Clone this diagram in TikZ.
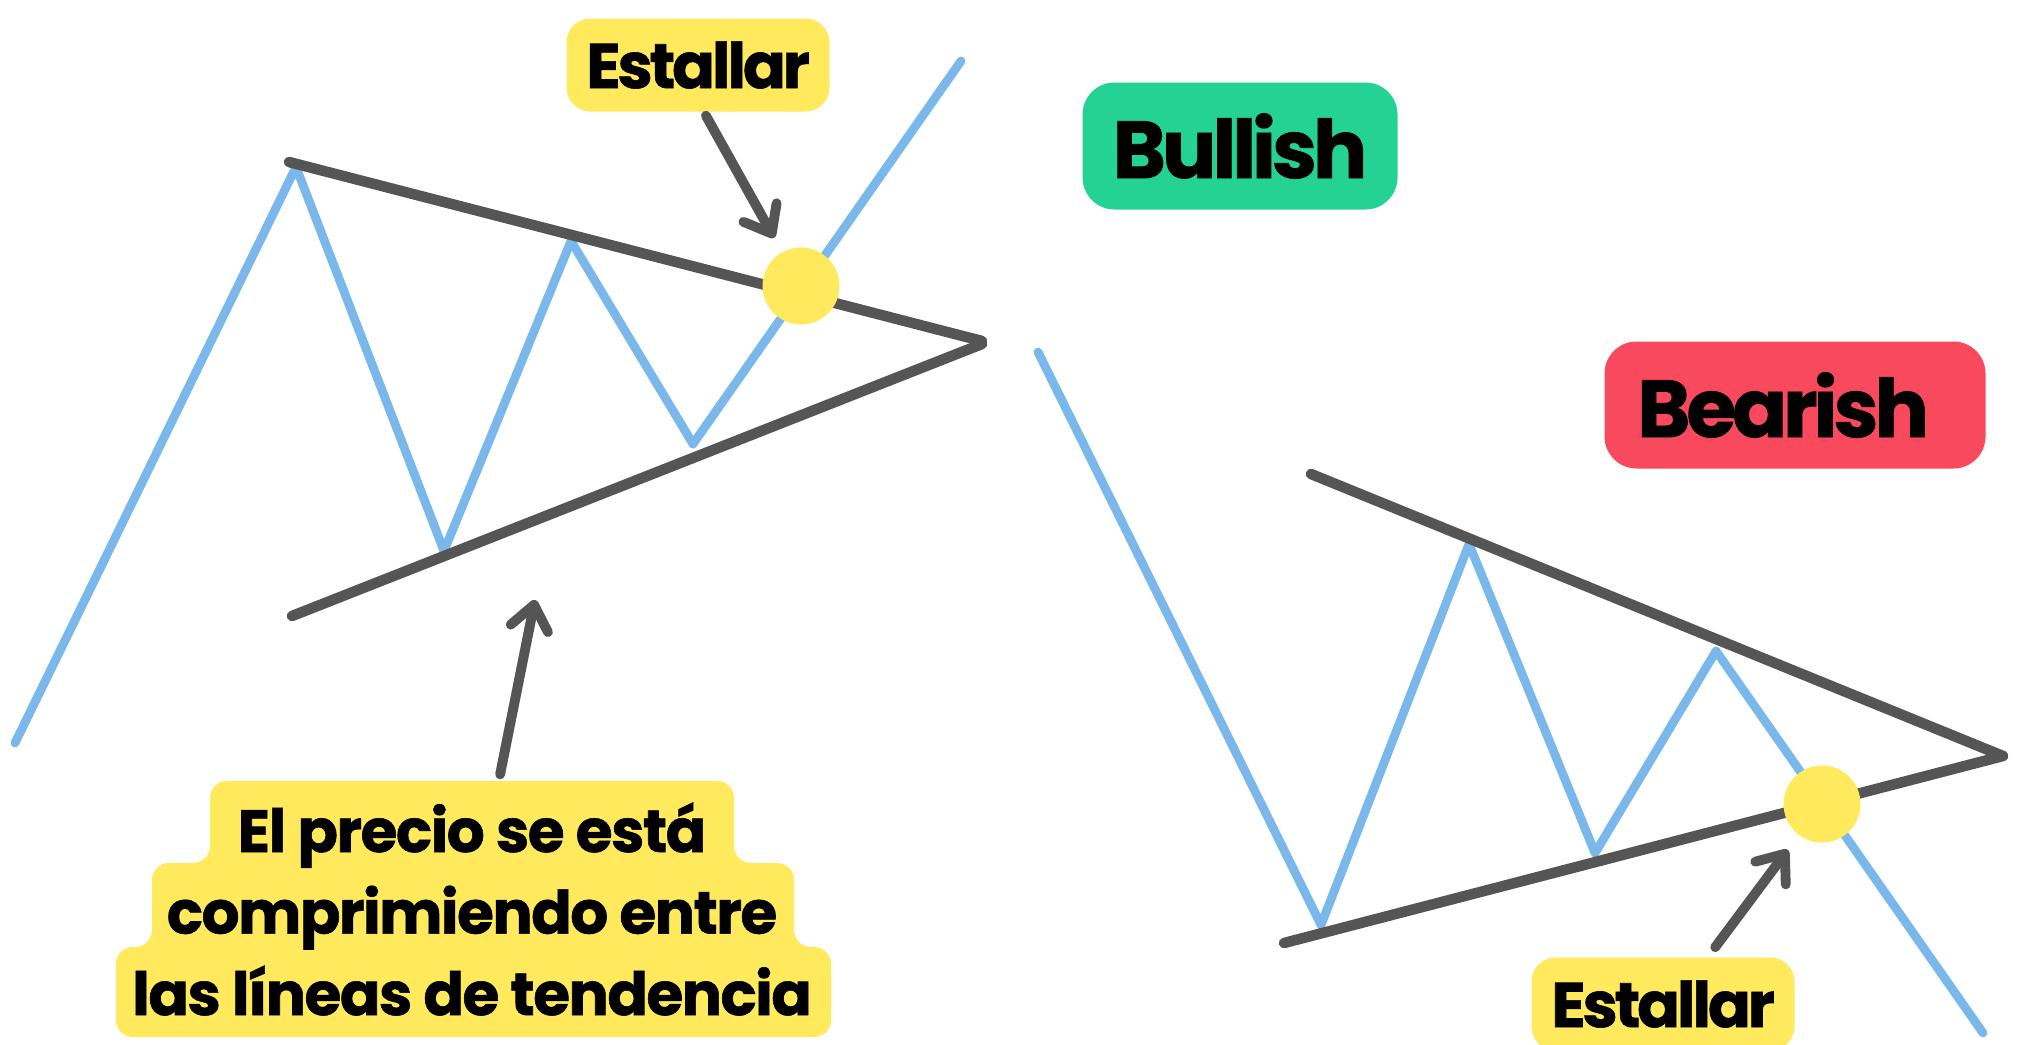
\documentclass[tikz,border=0pt]{standalone}
\usepackage{fontspec}
\setmainfont{Poppins}[BoldFeatures={FakeBold=1}]
\usetikzlibrary{arrows.meta}

\definecolor{azulprecio}{HTML}{7AB8EC}
\definecolor{grislinea}{HTML}{555555}
\definecolor{amarillo}{HTML}{FFE95C}
\definecolor{verde}{HTML}{24D394}
\definecolor{rojo}{HTML}{F84A5C}

\begin{document}
\begin{tikzpicture}[x=0.1mm,y=-0.1mm,
    precio/.style={azulprecio,line width=2.5pt,line cap=round,line join=round},
    tendencia/.style={grislinea,line width=3pt,line cap=round},
    flecha/.style={grislinea,line width=2.8pt,line cap=round,
        -{Straight Barb[length=2.4mm,width=3.8mm,round]}},
    punto/.style={circle,fill=amarillo,minimum size=7.7mm,inner sep=0pt},
    estallar/.style={fill=amarillo,rounded corners=2.4mm,minimum width=2.63cm,
        minimum height=0.93cm,font=\bfseries\fontsize{18}{22}\selectfont\addfontfeatures{LetterSpace=-5}},
    senal/.style={rounded corners=3.2mm,minimum height=1.27cm,
        font=\bfseries\fontsize{23}{28}\selectfont\addfontfeatures{LetterSpace=-5}}]
    \useasboundingbox (0,0) rectangle (2020,1044);

    % alcista
    \draw[precio] (15,743) -- (296,167) -- (444,551) -- (571,241) -- (693,444) -- (961,61);
    \draw[tendencia] (289,162) -- (982,341);
    \draw[tendencia] (292,616) -- (982,344);
    \node[punto] (ruptura1) at (801,286) {};
    \node[estallar] (estallar1) at (698,65) {Estallar};
    \draw[flecha,shorten <=0.4mm,shorten >=1.6mm] ([xshift=0.6mm]estallar1.south) -- (ruptura1);
    \node[senal,fill=verde,minimum width=3.15cm] (alcista) at (1240,146) {Bullish};

    % bajista
    \draw[precio] (1038,352) -- (1321,925) -- (1469,544) -- (1595,853) -- (1716,651) -- (1983,1033);
    \draw[tendencia] (1311,474) -- (2003,756);
    \draw[tendencia] (1284,943) -- (2003,756);
    \node[punto] (ruptura2) at (1822,804) {};
    \node[estallar] (estallar2) at (1663,1004) {Estallar};
    \draw[flecha,shorten <=1.2mm,shorten >=1.8mm] ([xshift=4.5mm]estallar2.north) -- (ruptura2);
    \node[senal,fill=rojo,minimum width=3.81cm,text width=3.2cm,align=center] (bajista) at (1795,405)
        {\hspace*{-2.4mm}Bearish};

    % aviso
    \fill[amarillo,rounded corners=1.7mm] (210,781) -- (734,781) -- (734,863) -- (794,863)
        -- (794,947) -- (831,947) -- (831,1037) -- (116,1037) -- (116,947) -- (152,947)
        -- (152,863) -- (210,863) -- cycle;
    \node[align=center,font=\bfseries\fontsize{17}{23.2}\selectfont\addfontfeatures{LetterSpace=-2.5}]
        (aviso) at (472,909) {El precio se está\\comprimiendo entre\\las líneas de tendencia};
    \coordinate (apoyo) at (535,600);
    \draw[flecha,shorten <=1.6mm] ([xshift=2.5mm]aviso.north) -- (apoyo);
\end{tikzpicture}
\end{document}
